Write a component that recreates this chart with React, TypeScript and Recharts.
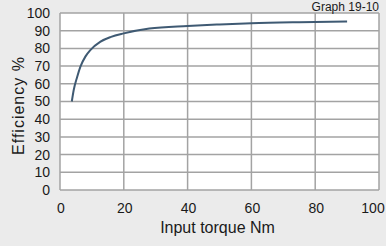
import { CartesianGrid, Line, LineChart, XAxis, YAxis } from "recharts";

const torque = [3.7, 4.3, 5.4, 6.4, 8, 9.5, 12.7, 16, 20, 28, 40, 50, 60, 75, 90];
const efficiency = [50, 56.5, 64, 69.7, 75.5, 79, 83.8, 86.5, 88.5, 91.3, 92.7, 93.5, 94.2, 94.8, 95.2];
const xTicks = [0, 20, 40, 60, 80, 100];
const yTicks = [0, 10, 20, 30, 40, 50, 60, 70, 80, 90, 100];

const data = torque.map((t, i) => ({ torque: t, efficiency: efficiency[i] }));

const font = "Arial, 'Liberation Sans', Helvetica, sans-serif";
const textColor = "#1a1a1a";

const XTick = (props: any) => {
  const { x, y, payload } = props;
  const shift = payload.value === 100 ? -6 : 1;
  return (
    <text x={x + shift} y={y + 15} textAnchor="middle" fontSize={14} fill={textColor} fontFamily={font}>
      {payload.value}
    </text>
  );
};

export default function App() {
  return (
    <div style={{ position: "absolute", left: 0, top: 0, width: 386, height: 246, background: "#ebebeb" }}>
      <LineChart
        width={386}
        height={246}
        data={data}
        margin={{ top: 13, right: 7, bottom: 0, left: 0 }}
        style={{ fontFamily: font }}
      >
        <CartesianGrid
          stroke="#a3a3a3"
          strokeWidth={1.5}
          fill="#ffffff"
          fillOpacity={1}
          horizontalValues={yTicks}
          verticalValues={xTicks}
        />
        <XAxis
          dataKey="torque"
          type="number"
          domain={[0, 100]}
          ticks={xTicks}
          interval={0}
          height={56}
          axisLine={false}
          tickLine={false}
          tick={<XTick />}
          label={{
            value: "Input torque Nm",
            position: "insideBottom",
            offset: 13,
            fontSize: 16,
            fill: textColor,
            dx: -2,
          }}
        />
        <YAxis
          type="number"
          domain={[0, 100]}
          ticks={yTicks}
          interval={0}
          width={60}
          axisLine={false}
          tickLine={false}
          tickMargin={4}
          tick={{ fontSize: 14, fill: textColor }}
          label={{
            value: "Efficiency %",
            angle: -90,
            position: "insideLeft",
            offset: 18,
            fontSize: 16,
            fill: textColor,
            style: { textAnchor: "middle", letterSpacing: 1 },
            dy: 4,
          }}
        />
        <Line
          type="monotone"
          dataKey="efficiency"
          stroke="#3f5a73"
          strokeWidth={2}
          dot={false}
          isAnimationActive={false}
        />
      </LineChart>
      <svg width={386} height={246} style={{ position: "absolute", left: 0, top: 0, pointerEvents: "none" }}>
        <text x={379} y={10.5} textAnchor="end" fontSize={12} fill={textColor} fontFamily={font}>
          Graph 19-10
        </text>
      </svg>
    </div>
  );
}
